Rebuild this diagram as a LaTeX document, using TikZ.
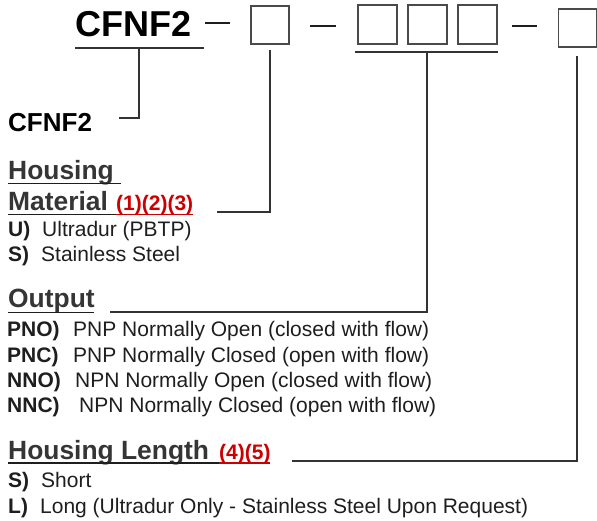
\documentclass[tikz,border=0pt]{standalone}
\usepackage{fontspec}
\setmainfont{Liberation Sans}
\definecolor{ink}{HTML}{1E1E1E}
\definecolor{linec}{HTML}{333333}
\definecolor{boxc}{HTML}{4A4A4A}
\definecolor{redc}{HTML}{CC0000}
\tikzset{
  txt/.style={anchor=base west, inner sep=0pt, text=ink, font=\fontsize{21}{21}\selectfont},
  lbl/.style={txt, font=\fontsize{21}{21}\selectfont\bfseries},
  head/.style={txt, text=ink!90!white, font=\fontsize{26.4}{26.4}\selectfont\bfseries},
  note/.style={txt, text=redc, font=\fontsize{21}{21}\selectfont\bfseries},
  slot/.style={draw=boxc, line width=1.4pt, minimum size=38pt, inner sep=0pt},
  conn/.style={draw=linec, line width=1.5pt},
  uline/.style={draw=ink, line width=1.3pt},
  rline/.style={draw=redc, line width=1.3pt},
  dashbar/.style={draw=ink, line width=2.2pt}
}
\begin{document}
\begin{tikzpicture}[x=1pt,y=-1pt]
\useasboundingbox (0,0) rectangle (597,521);
% title code
\node[txt, font=\fontsize{36}{36}\selectfont\bfseries, text=black] (title) at (75,37) {CFNF2};
\draw[dashbar] (205,23) -- (230,23);
\node[slot] (b1) at (270,25) {};
\draw[dashbar] (310,26) -- (336,26);
\node[slot, minimum size=39pt] (b2) at (377.5,24.5) {};
\node[slot, minimum size=39pt] (b3) at (427.5,24.5) {};
\node[slot, minimum size=39pt] (b4) at (477.5,24.5) {};
\draw[dashbar] (512,26) -- (537,26);
\node[slot] (b5) at (577.5,28) {};
% underlines of the code
\coordinate (tuL) at (75,48); \coordinate (tuR) at (204,48); \coordinate (tuM) at (139,48);
\draw[conn] (tuL) -- (tuR);
\coordinate (ouL) at (355,52); \coordinate (ouR) at (498,52); \coordinate (ouM) at (427,52);
\draw[conn] (ouL) -- (ouR);
\coordinate (m1) at (270,50);
\coordinate (h1) at (577,56);
% sections
\node[lbl, font=\fontsize{26}{26}\selectfont\bfseries, text=black] (cf) at (8,132) {CFNF2};
\coordinate (cfend) at (119,118);
\draw[conn] (tuM) |- (cfend);

\node[head] (hous) at (8,180) {Housing};
\draw[uline] (8,183.5) -- (121,183.5);
\node[head] (mat) at (8,211) {Material};
\draw[uline] (8,214.5) -- (116,214.5);
\node[note] (n123) at (116,211) {(1)(2)(3)};
\draw[rline] (116,214.5) -- (193,214.5);
\coordinate (matend) at (217,212);
\draw[conn] (m1) |- (matend);
\node[lbl] (u) at (8,237) {U)};
\node[txt] (ut) at (42,237) {Ultradur (PBTP)};
\node[lbl] (s) at (8,262) {S)};
\node[txt] (st) at (41,262) {Stainless Steel};

\node[head] (out) at (8,308) {Output};
\draw[uline] (8,312.5) -- (94,312.5);
\coordinate (outend) at (110,312);
\draw[conn] (ouM) |- (outend);
\node[lbl] (pno) at (7,337) {PNO)};
\node[txt] (pnot) at (73,337) {PNP Normally Open (closed with flow)};
\node[lbl] (pnc) at (7,362) {PNC)};
\node[txt] (pnct) at (73,362) {PNP Normally Closed (open with flow)};
\node[lbl] (nno) at (7,387) {NNO)};
\node[txt] (nnot) at (75,387) {NPN Normally Open (closed with flow)};
\node[lbl] (nnc) at (7,412) {NNC)};
\node[txt] (nnct) at (79,412) {NPN Normally Closed (open with flow)};

\node[head] (hl) at (8,459) {Housing Length};
\draw[uline] (8,463) -- (219,463);
\node[note] (n45) at (219,459) {(4)(5)};
\draw[rline] (219,463) -- (270,463);
\coordinate (hlend) at (292,461);
\draw[conn] (h1) |- (hlend);
\node[lbl] (s2) at (8,487) {S)};
\node[txt] (s2t) at (41,487) {Short};
\node[lbl] (l2) at (8,513) {L)};
\node[txt] (l2t) at (40,513) {Long (Ultradur Only - Stainless Steel Upon Request)};
\end{tikzpicture}
\end{document}
